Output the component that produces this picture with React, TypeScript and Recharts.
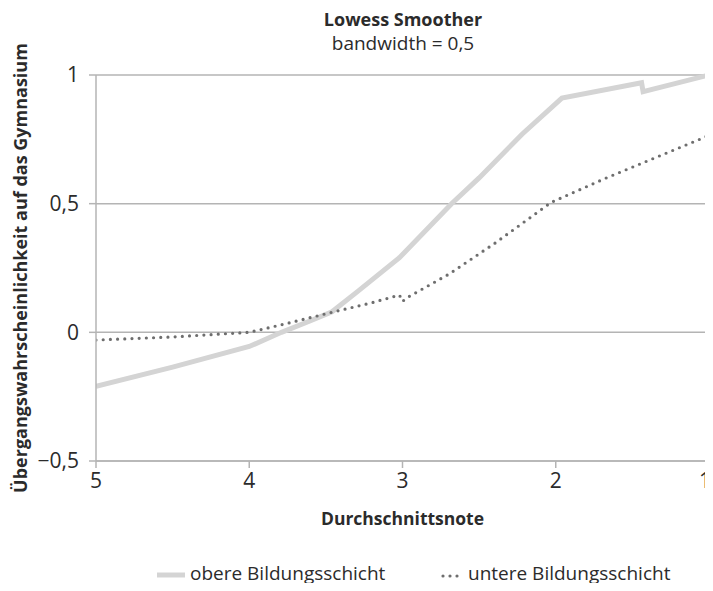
import { LineChart, Line, XAxis, YAxis, CartesianGrid, Label } from 'recharts';

// Durchschnittsnote (x) und geglättete Übergangswahrscheinlichkeit (y)
const obereNote = [5, 4.5, 4, 3.79, 3.6, 3.46, 3.29, 3.02, 2.68, 2.5, 2.22, 1.96, 1.44, 1.43, 1];
const obereWert = [-0.21, -0.135, -0.055, 0, 0.045, 0.08, 0.16, 0.29, 0.5, 0.6, 0.77, 0.91, 0.97, 0.935, 1.0];

const untereNote = [5, 4.5, 4, 3.75, 3.46, 3.2, 3.02, 3.0, 2.97, 2.7, 2.4, 2.03, 1.67, 1];
const untereWert = [-0.03, -0.018, 0, 0.035, 0.078, 0.115, 0.145, 0.12, 0.135, 0.225, 0.345, 0.505, 0.6, 0.765];

const xTicks = [5, 4, 3, 2, 1];
const yTicks = [-0.5, 0, 0.5, 1];

const obere = obereNote.map((x, i) => ({ x, y: obereWert[i] }));
const untere = untereNote.map((x, i) => ({ x, y: untereWert[i] }));

const FONT = '"Open Sans", sans-serif';
const GRID = '#b4b4b4';
const TEXT = '#2b2b2b';

const fmt = (v: number) => String(v).replace('.', ',').replace('-', '\u2212');

const XTick = (props: any) => {
  const { x, y, payload } = props;
  // the last tick sits at the right edge of the picture, keep it inside
  const last = payload.value === xTicks[xTicks.length - 1];
  return (
    <text
      x={last ? x + 2 : x}
      y={y + 18}
      textAnchor={last ? 'end' : 'middle'}
      fill={TEXT}
      style={{ fontFamily: FONT, fontSize: 21 }}
    >
      {payload.value}
    </text>
  );
};

const YTitle = (props: any) => {
  const { y, height } = props.viewBox;
  const cx = 20;
  const cy = y + height / 2;
  return (
    <text
      x={cx}
      y={cy}
      transform={`rotate(-90 ${cx} ${cy})`}
      textAnchor="middle"
      dominantBaseline="central"
      fill={TEXT}
      style={{ fontFamily: FONT, fontSize: 18, fontWeight: 700 }}
    >
      Übergangswahrscheinlichkeit auf das Gymnasium
    </text>
  );
};

const XTitle = (props: any) => {
  const { x, width } = props.viewBox;
  return (
    <text
      x={x + width / 2}
      y={518}
      textAnchor="middle"
      dominantBaseline="central"
      fill={TEXT}
      style={{ fontFamily: FONT, fontSize: 17.5, fontWeight: 700 }}
    >
      Durchschnittsnote
    </text>
  );
};

export default function App() {
  return (
    <div style={{ position: 'relative', margin: -8, width: 713, height: 591, fontFamily: FONT, color: TEXT }}>
      <div style={{ position: 'absolute', left: 96, width: 614, top: 9, textAlign: 'center', fontSize: 18, fontWeight: 700, lineHeight: '20px' }}>
        Lowess Smoother
      </div>
      <div style={{ position: 'absolute', left: 96, width: 614, top: 32, textAlign: 'center', fontSize: 19, lineHeight: '22px' }}>
        bandwidth = 0,5
      </div>

      <LineChart width={713} height={591} margin={{ top: 75, right: 4, bottom: 100, left: 0 }}>
        <CartesianGrid vertical={false} stroke={GRID} strokeWidth={1.5} />
        <XAxis
          type="number"
          dataKey="x"
          domain={[1, 5]}
          reversed
          ticks={xTicks}
          interval={0}
          stroke={GRID}
          strokeWidth={1.5}
          tickSize={7}
          height={30}
          tick={XTick}
          allowDataOverflow
        >
          <Label content={XTitle} />
        </XAxis>
        <YAxis
          type="number"
          domain={[-0.5, 1]}
          ticks={yTicks}
          interval={0}
          width={96}
          stroke={GRID}
          strokeWidth={1.5}
          tickSize={7}
          tickMargin={10}
          tickFormatter={fmt}
          tick={{ fill: TEXT, fontSize: 21, fontFamily: FONT }}
        >
          <Label content={YTitle} />
        </YAxis>
        <Line
          data={obere}
          dataKey="y"
          type="linear"
          stroke="#d4d4d4"
          strokeWidth={5}
          dot={false}
          isAnimationActive={false}
        />
        <Line
          data={untere}
          dataKey="y"
          type="linear"
          stroke="#6e6e6e"
          strokeWidth={3.2}
          strokeDasharray="0 7.2"
          strokeLinecap="round"
          dot={false}
          isAnimationActive={false}
        />
      </LineChart>

      <svg width={30} height={10} style={{ position: 'absolute', left: 156, top: 570 }}>
        <line x1={1} y1={5} x2={29} y2={5} stroke="#d4d4d4" strokeWidth={5} />
      </svg>
      <span style={{ position: 'absolute', left: 190, top: 561, fontSize: 19, lineHeight: '24px', whiteSpace: 'nowrap' }}>
        obere Bildungsschicht
      </span>
      <svg width={26} height={10} style={{ position: 'absolute', left: 440, top: 570 }}>
        <line x1={3} y1={6} x2={24} y2={6} stroke="#6e6e6e" strokeWidth={3.2} strokeDasharray="0 7" strokeLinecap="round" />
      </svg>
      <span style={{ position: 'absolute', left: 468, top: 561, fontSize: 19, lineHeight: '24px', whiteSpace: 'nowrap' }}>
        untere Bildungsschicht
      </span>
    </div>
  );
}
